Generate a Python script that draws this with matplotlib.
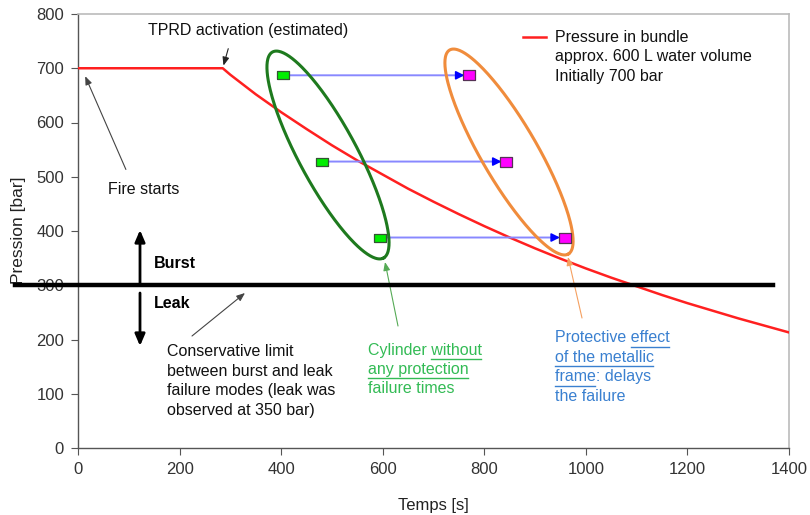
import numpy as np
import matplotlib
matplotlib.use("Agg")
import matplotlib.pyplot as plt
from matplotlib.lines import Line2D

plt.rcParams['font.family'] = ['Liberation Sans', 'DejaVu Sans']

# ---- data ----
time_s = [0, 285, 300, 350, 400, 450, 500, 550, 600, 650, 700, 750, 800, 850, 900,
          950, 1000, 1050, 1100, 1150, 1200, 1250, 1300, 1350, 1400]
pressure_bar = [700, 700, 688, 652, 619, 588, 558, 530, 504, 478, 454, 431, 409, 388, 368,
                349, 331, 314, 298, 282, 267, 253, 239, 226, 213]

unprotected_t = [403, 480, 594]
unprotected_p = [687, 528, 388]
protected_t = [770, 843, 958]
protected_p = [687, 528, 387]

limit_bar = 300
xticks = [0, 200, 400, 600, 800, 1000, 1200, 1400]
yticks = [0, 100, 200, 300, 400, 500, 600, 700, 800]

W, H = 810, 515
fig = plt.figure(figsize=(W / 100, H / 100), dpi=100)
L, R, T, B = 78, 789, 14, 448
ax = fig.add_axes([L / W, 1 - B / H, (R - L) / W, (B - T) / H])
ax.set_xlim(0, 1400)
ax.set_ylim(0, 800)
sx = (R - L) / 1400.0
sy = (B - T) / 800.0

def fx(px):
    return px / W

def fy(py):
    return 1 - py / H

# spines
for s in ['left', 'bottom']:
    ax.spines[s].set_color('#555555')
    ax.spines[s].set_linewidth(1.0)
for s in ['top', 'right']:
    ax.spines[s].set_color('#bbbbbb')
    ax.spines[s].set_linewidth(1.2)
ax.set_xticks(xticks)
ax.set_yticks(yticks)
ax.tick_params(axis='both', direction='out', length=5, color='#555555',
               labelsize=12, labelcolor='#333333', pad=5)
ax.tick_params(top=False, right=False)
ax.set_xlabel('Temps [s]', fontsize=12, color='#222222', labelpad=15)
fig.text(fx(19), fy(230), 'Pression [bar]', rotation=90, fontsize=12.5,
         color='#222222', ha='center', va='center')

# pressure curve
ax.plot(time_s, pressure_bar, color='#ff2020', lw=1.8, zorder=3)

# limit line (extends left past axes)
y_lim_fig = ax.transAxes.inverted().transform(ax.transData.transform((0, limit_bar)))[1]
y_lim_fig = (1 - B / H) + y_lim_fig * (B - T) / H
fig.add_artist(Line2D([fx(15), fx(773)], [y_lim_fig, y_lim_fig],
                      color='black', lw=3.2, zorder=5))

# arrows from unprotected to protected
for t0, p0, t1, p1 in zip(unprotected_t, unprotected_p, protected_t, protected_p):
    ax.annotate('', xy=(t1 - 12, p0), xytext=(t0, p0),
                arrowprops=dict(arrowstyle='-', color='#8888ff', lw=1.4), zorder=4)
    ax.annotate('', xy=(t1 - 9, p0), xytext=(t1 - 22, p0),
                arrowprops=dict(arrowstyle='-|>,head_length=0.5,head_width=0.25',
                                color='#0000ff', lw=1.2, shrinkA=0, shrinkB=0), zorder=4)

rect_g = [(-1.7, -1), (1.7, -1), (1.7, 1), (-1.7, 1), (-1.7, -1)]
rect_m = [(-1.2, -1), (1.2, -1), (1.2, 1), (-1.2, 1), (-1.2, -1)]
ax.plot(unprotected_t, unprotected_p, ls='none', marker=rect_g, ms=9,
        mfc='#00ee00', mec='#335533', mew=0.9, zorder=6)
ax.plot(protected_t, protected_p, ls='none', marker=rect_m, ms=8,
        mfc='#ff00ff', mec='#553355', mew=0.9, zorder=6)

# ellipses (defined in pixel space, converted to data)
def ellipse(cx_px, cy_px, a, b, ang_deg, color):
    th = np.linspace(0, 2 * np.pi, 300)
    ang = np.deg2rad(ang_deg)
    px = a * np.cos(th) * np.cos(ang) - b * np.sin(th) * np.sin(ang)
    py = a * np.cos(th) * np.sin(ang) + b * np.sin(th) * np.cos(ang)
    xd = (cx_px - L) / sx + px / sx
    yd = (B - cy_px) / sy + py / sy
    ax.plot(xd, yd, color=color, lw=2.2, zorder=5, clip_on=False)

ellipse(328, 155, 117, 29, -61.7, '#1e7a1e')
ellipse(509, 152, 118, 28, -59.8, '#f08c3c')

# annotations
fs = 11.5
fig.text(fx(248), fy(31), 'TPRD activation (estimated)', fontsize=fs, ha='center', va='center', color='#111111')
ax.annotate('', xy=(285, 700), xytext=(fx(229), fy(46)), textcoords='figure fraction',
            arrowprops=dict(arrowstyle='-|>,head_length=0.5,head_width=0.2', color='#222222', lw=0.8))
fig.text(fx(108), fy(189), 'Fire starts', fontsize=fs, ha='left', va='center', color='#111111')
ax.annotate('', xy=(12, 690), xytext=(fx(127), fy(172)), textcoords='figure fraction',
            arrowprops=dict(arrowstyle='-|>,head_length=0.5,head_width=0.2', color='#444444', lw=0.8))

# legend-like text
fig.add_artist(Line2D([fx(523), fx(546)], [fy(37), fy(37)], color='#ff2020', lw=1.8))
for i, s in enumerate(['Pressure in bundle', 'approx. 600 L water volume', 'Initially 700 bar']):
    fig.text(fx(555), fy(37 + 19.7 * i), s, fontsize=fs, ha='left', va='center', color='#111111')

# burst / leak
fig.text(fx(154), fy(264), 'Burst', fontsize=fs, fontweight='bold', ha='left', va='center')
fig.text(fx(154), fy(304), 'Leak', fontsize=fs, fontweight='bold', ha='left', va='center')
ax.annotate('', xy=(fx(140), fy(230)), xytext=(fx(140), fy(283)), xycoords='figure fraction',
            textcoords='figure fraction',
            arrowprops=dict(arrowstyle='-|>,head_length=0.7,head_width=0.3', color='black', lw=2, shrinkA=0, shrinkB=0))
ax.annotate('', xy=(fx(140), fy(346)), xytext=(fx(140), fy(293)), xycoords='figure fraction',
            textcoords='figure fraction',
            arrowprops=dict(arrowstyle='-|>,head_length=0.7,head_width=0.3', color='black', lw=2, shrinkA=0, shrinkB=0))

for i, s in enumerate(['Conservative limit', 'between burst and leak',
                       'failure modes (leak was', 'observed at 350 bar)']):
    fig.text(fx(167), fy(352 + 19.5 * i), s, fontsize=fs, ha='left', va='center', color='#111111')
ax.annotate('', xy=(fx(245), fy(293)), xytext=(fx(192), fy(336)), xycoords='figure fraction',
            textcoords='figure fraction',
            arrowprops=dict(arrowstyle='-|>,head_length=0.5,head_width=0.2', color='#444444', lw=0.8, shrinkA=0, shrinkB=0))

fig.canvas.draw()
renderer = fig.canvas.get_renderer()

def width_of(s):
    t = fig.text(0, 0, s, fontsize=fs)
    w = t.get_window_extent(renderer).width
    t.remove()
    return w

def rich_lines(x0, y0, dy, lines, color):
    for i, segs in enumerate(lines):
        y = y0 + dy * i
        full = ''.join(s for s, _ in segs)
        fig.text(fx(x0), fy(y), full, fontsize=fs, ha='left', va='center', color=color)
        prefix = ''
        for s, u in segs:
            if u:
                end = width_of(prefix + s) - 1
                start = end - width_of(s) + 1
                fig.add_artist(Line2D([fx(x0 + start), fx(x0 + end)], [fy(y + 8.5), fy(y + 8.5)],
                                      color=color, lw=1.0))
            prefix += s

green_c = '#33bb55'
blue_c = '#3a80d0'
rich_lines(368, 350, 19.3, [[('Cylinder ', False), ('without', True)],
                            [('any protection', True)],
                            [('failure times', False)]], green_c)
rich_lines(555, 338, 19.5, [[('Protective ', False), ('effect', True)],
                            [('of the metallic', True)],
                            [('frame', True), (': delays', False)],
                            [('the failure', False)]], blue_c)

ax.annotate('', xy=(fx(385), fy(262)), xytext=(fx(398), fy(326)), xycoords='figure fraction',
            textcoords='figure fraction',
            arrowprops=dict(arrowstyle='-|>,head_length=0.5,head_width=0.2', color='#55aa55', lw=0.8, shrinkA=0, shrinkB=0))
ax.annotate('', xy=(fx(568), fy(257)), xytext=(fx(582), fy(318)), xycoords='figure fraction',
            textcoords='figure fraction',
            arrowprops=dict(arrowstyle='-|>,head_length=0.5,head_width=0.2', color='#f5a060', lw=0.8, shrinkA=0, shrinkB=0))

fig.savefig('out.png', dpi=100)
